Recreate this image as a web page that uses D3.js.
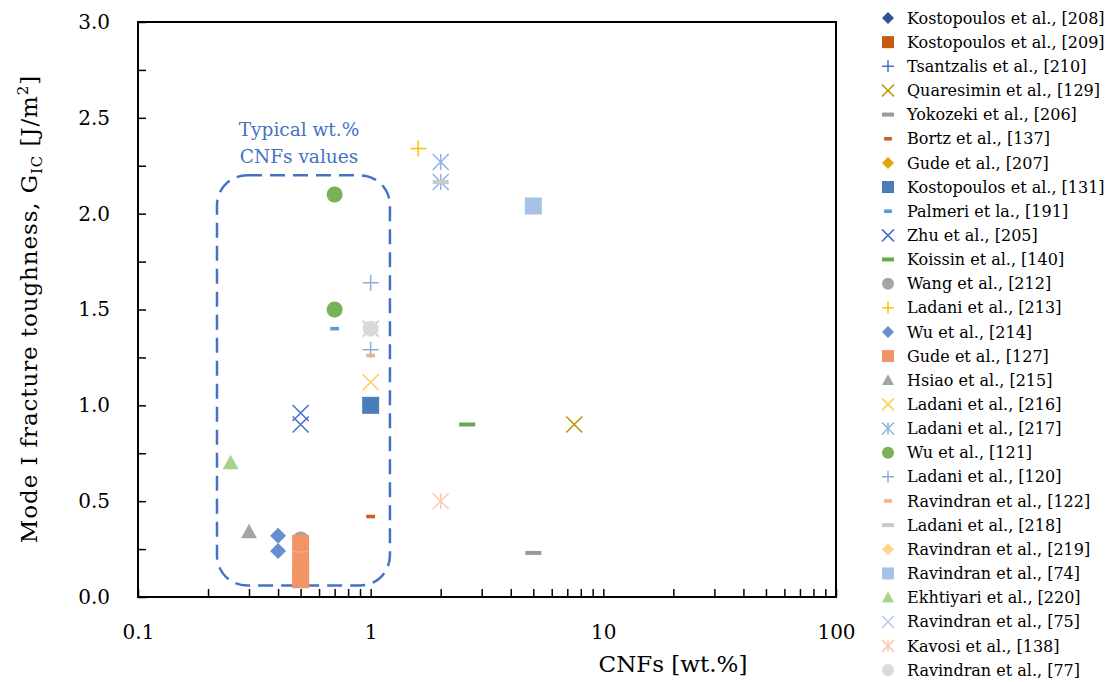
<!DOCTYPE html>
<html>
<head>
<meta charset="utf-8">
<script src="https://cdn.jsdelivr.net/npm/d3@7"></script>
<style>
  body { margin: 0; background: #fff; }
  svg { display: block; font-family: "Palatino Linotype", "Book Antiqua", Palatino, "DejaVu Serif", serif; }
</style>
</head>
<body>
<svg width="1110" height="682"></svg>
<script>
// series: name, marker shape, colour
const seriesNames = [
  "Kostopoulos et al., [208]", "Kostopoulos et al., [209]", "Tsantzalis et al., [210]",
  "Quaresimin et al., [129]", "Yokozeki et al., [206]", "Bortz et al., [137]",
  "Gude et al., [207]", "Kostopoulos et al., [131]", "Palmeri et la., [191]",
  "Zhu et al., [205]", "Koissin et al., [140]", "Wang et al., [212]",
  "Ladani et al., [213]", "Wu et al., [214]", "Gude et al., [127]",
  "Hsiao et al., [215]", "Ladani et al., [216]", "Ladani et al., [217]",
  "Wu et al., [121]", "Ladani et al., [120]", "Ravindran et al., [122]",
  "Ladani et al., [218]", "Ravindran et al., [219]", "Ravindran et al., [74]",
  "Ekhtiyari et al., [220]", "Ravindran et al., [75]", "Kavosi et al., [138]",
  "Ravindran et al., [77]"
];
const seriesShapes = [
  "diamond", "square", "plus", "x", "dashW", "dash", "diamond", "square", "dash",
  "x", "dashW", "circle", "plus", "diamond", "square", "triangle", "x", "asterisk",
  "circle", "plus", "dash", "dashW", "diamond", "square", "triangle", "x", "asterisk",
  "circle"
];
const seriesColors = [
  "#2F5597", "#C55A11", "#4472C4", "#BF9000", "#999999", "#C8601E", "#DFA60A",
  "#4A7EBB", "#5B9BD5", "#4472C4", "#6AA84F", "#A5A5A5", "#FFC000", "#698ED0",
  "#F19466", "#A5A5A5", "#FFCD4F", "#8DB3E2", "#78B157", "#8FAADC", "#F4B183",
  "#C9C9C9", "#FFD68A", "#A6C3E7", "#A9D18E", "#B4C7E7", "#F8CBAD", "#D9D9D9"
];
// CNF content [wt.%] and G_IC [J/m2] per series (same order as above)
const cnfWt = [
  [], [], [], [7.5], [5], [1], [], [1], [0.7],
  [0.5, 0.5], [2.6], [0.5], [1.6], [0.4, 0.4], [0.5, 0.5, 0.5, 0.5], [0.3], [1], [2, 2],
  [0.7, 0.7], [1, 1], [1], [2], [], [5], [0.25], [1], [2], [1]
];
const gIc = [
  [], [], [], [0.9], [0.23], [0.42], [], [1.0], [1.4],
  [0.96, 0.9], [0.9], [0.3], [2.34], [0.32, 0.24], [0.28, 0.19, 0.13, 0.09], [0.34], [1.12], [2.27, 2.165],
  [2.1, 1.5], [1.64, 1.29], [1.26], [2.165], [], [2.04], [0.7], [1.4], [0.5], [1.4]
];
const xMajor = [0.1, 1, 10, 100];
const yTicks = [0, 0.5, 1, 1.5, 2, 2.5, 3];
// "typical" annotation box in data units: [x0, x1, y0, y1]
const boxCorners = [0.2185, 1.21, 0.06, 2.2];

const svg = d3.select("svg");
const margin = {left: 138, right: 836, top: 22, bottom: 597};

const x = d3.scaleLog().domain([0.1, 100]).range([margin.left, margin.right]);
const y = d3.scaleLinear().domain([0, 3]).range([margin.bottom, margin.top]);

// marker path builder, s = half size
function markerPath(shape, s) {
  switch (shape) {
    case "diamond": return `M0,${-s}L${s},0L0,${s}L${-s},0Z`;
    case "square": return `M${-s},${-s}H${s}V${s}H${-s}Z`;
    case "triangle": return `M0,${-s}L${s},${s * 0.8}L${-s},${s * 0.8}Z`;
    case "circle": return `M${s},0A${s},${s},0,1,1,${-s},0A${s},${s},0,1,1,${s},0Z`;
    case "plus": return `M${-s},0H${s}M0,${-s}V${s}`;
    case "x": return `M${-s},${-s}L${s},${s}M${-s},${s}L${s},${-s}`;
    case "asterisk": return `M${-s},${-s}L${s},${s}M${-s},${s}L${s},${-s}M0,${-s}V${s}`;
    case "dash": return `M${-s * 0.55},${-1.8}H${s * 0.55}V1.8H${-s * 0.55}Z`;
    case "dashW": return `M${-s},${-2}H${s}V2H${-s}Z`;
  }
}
function drawMarker(g, shape, color, s) {
  const stroked = shape === "plus" || shape === "x" || shape === "asterisk";
  g.append("path")
    .attr("d", markerPath(shape, s))
    .attr("fill", stroked ? "none" : color)
    .attr("stroke", stroked ? color : "none")
    .attr("stroke-width", stroked ? 1.5 : 0);
}

// annotation box
const bx0 = x(boxCorners[0]), bx1 = x(boxCorners[1]);
const by0 = y(boxCorners[3]), by1 = y(boxCorners[2]);
svg.append("rect")
  .attr("x", bx0).attr("y", by0)
  .attr("width", bx1 - bx0).attr("height", by1 - by0)
  .attr("rx", 30).attr("ry", 30)
  .attr("fill", "none")
  .attr("stroke", "#4472C4")
  .attr("stroke-width", 2.5)
  .attr("stroke-dasharray", "15,8");

const annot = svg.append("text")
  .attr("fill", "#4472C4")
  .attr("font-size", 18.5)
  .attr("text-anchor", "middle");
annot.append("tspan").attr("x", 299).attr("y", 136).text("Typical wt.%");
annot.append("tspan").attr("x", 299).attr("y", 163).text("CNFs values");

// points
const gPoints = svg.append("g").attr("class", "points");
seriesNames.forEach((name, i) => {
  const shape = seriesShapes[i];
  const size = shape === "square" ? 8.5 : 8;
  cnfWt[i].forEach((v, j) => {
    const g = gPoints.append("g")
      .attr("transform", `translate(${x(v)},${y(gIc[i][j])})`);
    drawMarker(g, shape, seriesColors[i], size);
  });
});

// axes (ticks point inward)
const xMinor = [];
for (let d = 0.1; d < 100; d *= 10) {
  for (let k = 1; k <= 10; k++) xMinor.push(+(d * k).toPrecision(3));
}
const xTickVals = Array.from(new Set(xMinor));

const xAxis = svg.append("g")
  .attr("transform", `translate(0,${margin.bottom})`)
  .call(d3.axisBottom(x).tickValues(xTickVals)
    .tickSizeInner(-8).tickSizeOuter(0).tickPadding(28)
    .tickFormat(d => xMajor.includes(d) ? d3.format("~g")(d) : ""));
xAxis.attr("font-family", null).attr("font-size", 20);
xAxis.select(".domain").remove();
xAxis.selectAll("line").attr("stroke", "#000").attr("stroke-width", 1.5);
xAxis.selectAll("text").attr("fill", "#000");

const yAxis = svg.append("g")
  .attr("transform", `translate(${margin.left},0)`)
  .call(d3.axisLeft(y).tickValues(d3.range(0, 3.01, 0.25))
    .tickSizeInner(-8).tickSizeOuter(0).tickPadding(28)
    .tickFormat(d => yTicks.includes(d) ? d3.format(".1f")(d) : ""));
yAxis.attr("font-family", null).attr("font-size", 20);
yAxis.select(".domain").remove();
yAxis.selectAll("line").attr("stroke", "#000").attr("stroke-width", 1.5);
yAxis.selectAll("text").attr("fill", "#000");

// frame
svg.append("rect")
  .attr("x", margin.left).attr("y", margin.top)
  .attr("width", margin.right - margin.left)
  .attr("height", margin.bottom - margin.top)
  .attr("fill", "none").attr("stroke", "#000").attr("stroke-width", 2);

// axis titles
svg.append("text")
  .attr("x", 673).attr("y", 672)
  .attr("text-anchor", "middle")
  .attr("font-size", 23)
  .text("CNFs [wt.%]");

const yt = svg.append("text")
  .attr("transform", "translate(37,309) rotate(-90)")
  .attr("text-anchor", "middle")
  .attr("font-size", 23)
  .attr("letter-spacing", 0.9);
yt.append("tspan").text("Mode I fracture toughness, G");
yt.append("tspan").attr("font-size", 15).attr("dy", 5).text("IC");
yt.append("tspan").attr("dy", -5).text(" [J/m");
yt.append("tspan").attr("font-size", 15).attr("dy", -9).text("2");
yt.append("tspan").attr("dy", 9).text("]");

// legend
const legend = svg.append("g").attr("class", "legend");
seriesNames.forEach((name, i) => {
  const ly = 18 + i * 24.15;
  const g = legend.append("g").attr("transform", `translate(888,${ly})`);
  drawMarker(g, seriesShapes[i], seriesColors[i], seriesShapes[i] === "dash" ? 7 : 6);
  legend.append("text")
    .attr("x", 907).attr("y", ly)
    .attr("dy", "0.35em")
    .attr("font-size", 16)
    .text(name);
});
</script>
</body>
</html>
